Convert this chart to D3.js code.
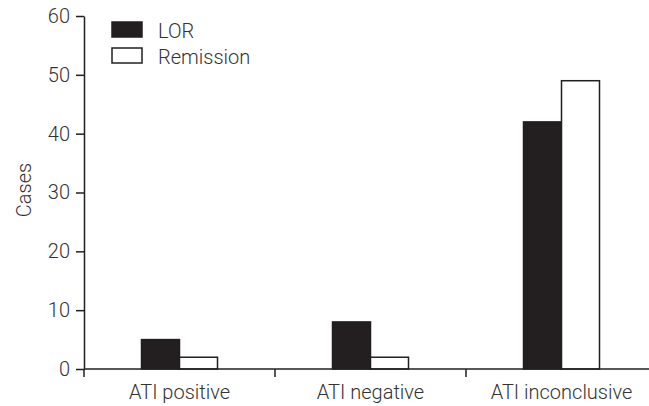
<!DOCTYPE html>
<html>
<head>
<meta charset="utf-8">
<script src="https://cdn.jsdelivr.net/npm/d3@7"></script>
<style>
  body { margin: 0; background: #fff; }
  text { font-family: Roboto, "Liberation Sans", sans-serif; font-weight: 300; fill: #333; }
</style>
</head>
<body>
<script>
// data
var categories = ["ATI positive", "ATI negative", "ATI inconclusive"];
var seriesNames = ["LOR", "Remission"];
var lorValues = [5, 8, 42];
var remissionValues = [2, 2, 49];
var yTicks = [0, 10, 20, 30, 40, 50, 60];

var width = 649, height = 406;
var ink = "#231f20";
var fs = "20px";

var svg = d3.select("body").append("svg")
  .attr("width", width)
  .attr("height", height);

// scales
var x0 = d3.scaleBand()
  .domain(categories)
  .range([84, 657])
  .padding(0);

var barW = 38;
var x1 = d3.scaleBand()
  .domain(seriesNames)
  .range([x0.bandwidth() / 2 - barW, x0.bandwidth() / 2 + barW])
  .padding(0);

var y = d3.scaleLinear()
  .domain([0, 60])
  .range([369, 16]);

// bars
var rows = categories.map(function(c, i) {
  return {cat: c, vals: [{s: "LOR", v: lorValues[i]}, {s: "Remission", v: remissionValues[i]}]};
});

var groups = svg.selectAll(".grp")
  .data(rows)
  .enter().append("g")
  .attr("class", "grp")
  .attr("transform", function(d) { return "translate(" + x0(d.cat) + ",0)"; });

groups.selectAll("rect")
  .data(function(d) { return d.vals; })
  .enter().append("rect")
  .attr("x", function(d) { return x1(d.s); })
  .attr("y", function(d) { return y(d.v); })
  .attr("width", x1.bandwidth())
  .attr("height", function(d) { return y(0) - y(d.v); })
  .attr("fill", function(d) { return d.s == "LOR" ? ink : "#fff"; })
  .attr("stroke", ink)
  .attr("stroke-width", 1.5);

// y axis
var yAxis = svg.append("g")
  .attr("transform", "translate(" + x0.range()[0] + ",0)")
  .call(d3.axisLeft(y).tickValues(yTicks).tickSize(8).tickSizeOuter(0).tickPadding(6));
yAxis.select(".domain").attr("stroke", ink).attr("stroke-width", 1.5);
yAxis.selectAll(".tick line").attr("stroke", ink).attr("stroke-width", 1.5);
yAxis.selectAll(".tick text")
  .style("font-family", "Roboto, sans-serif")
  .style("font-weight", 300)
  .style("font-size", fs)
  .attr("fill", "#333");

// x axis: baseline, boundary ticks, centred labels
svg.append("line")
  .attr("x1", x0.range()[0]).attr("x2", width)
  .attr("y1", y(0)).attr("y2", y(0))
  .attr("stroke", ink).attr("stroke-width", 1.5);

svg.selectAll(".xtick")
  .data(categories)
  .enter().append("line")
  .attr("class", "xtick")
  .attr("x1", function(d) { return x0(d); })
  .attr("x2", function(d) { return x0(d); })
  .attr("y1", y(0))
  .attr("y2", y(0) + 8)
  .attr("stroke", ink).attr("stroke-width", 1.5);

svg.selectAll(".xlabel")
  .data(categories)
  .enter().append("text")
  .attr("class", "xlabel")
  .attr("x", function(d) { return x0(d) + x0.bandwidth() / 2; })
  .attr("y", y(0) + 30)
  .attr("text-anchor", "middle")
  .style("font-size", fs)
  .text(function(d) { return d; });

// y label
svg.append("text")
  .attr("transform", "translate(31,190) rotate(-90)")
  .attr("text-anchor", "middle")
  .style("font-size", fs)
  .text("Cases");

// legend
var legend = svg.selectAll(".leg")
  .data(seriesNames)
  .enter().append("g")
  .attr("class", "leg")
  .attr("transform", function(d, i) { return "translate(112," + (22 + i * 26) + ")"; });

legend.append("rect")
  .attr("width", 30)
  .attr("height", 15)
  .attr("fill", function(d) { return d == "LOR" ? ink : "#fff"; })
  .attr("stroke", ink)
  .attr("stroke-width", 1.5);

legend.append("text")
  .attr("x", 46)
  .attr("y", 16)
  .style("font-size", fs)
  .text(function(d) { return d; });
</script>
</body>
</html>
